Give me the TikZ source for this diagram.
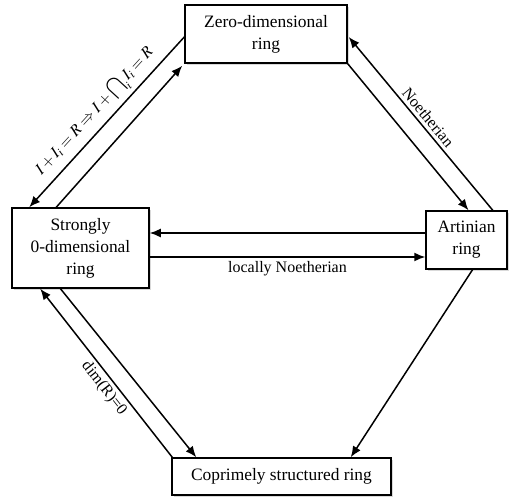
\documentclass[tikz,border=0pt]{standalone}
\usepackage{mathptmx}
\usepackage{fontspec}
\setmainfont{Liberation Serif}
\usetikzlibrary{shadows,arrows.meta}

\begin{document}
\begin{tikzpicture}[x=1pt,y=-1pt,
   ring/.style={draw,black,fill=white,line width=1.5pt,inner sep=0pt,align=center,
      font=\rmfamily\fontsize{17.4}{22}\selectfont,
      drop shadow={shadow xshift=2pt,shadow yshift=-2pt,opacity=0.3}},
   arr/.style={black,-{Latex[length=11pt,width=9pt]},line width=1.5pt},
   lbl/.style={font=\rmfamily\fontsize{16}{19}\selectfont}]
   \useasboundingbox (0,0) rectangle (509,498);
   \node[ring,minimum width=162pt,minimum height=58pt] (zero) at (266,34) {Zero-dimensional\\ring};
   \node[ring,minimum width=137pt,minimum height=80pt] (strong) at (80.5,248) {Strongly\\0-dimensional\\ring};
   \node[ring,minimum width=81pt,minimum height=58pt] (art) at (466.5,240) {Artinian\\ring};
   \node[ring,minimum width=219pt,minimum height=37pt] (cop) at (281.5,476.5) {Coprimely structured ring};
   \draw[arr] ([yshift=-3pt]zero.west)--([xshift=18pt]strong.north west) node[midway,above,sloped,lbl] () {$I + I_i = R \Rightarrow I + \displaystyle\bigcap\nolimits_i I_i = R$};
   \draw[arr] ([xshift=45pt]strong.north west)--([xshift=-2pt,yshift=-2pt]zero.south west);
   \draw[arr] (zero.south east)--([xshift=2pt]art.north);
   \draw[arr] ([xshift=-15pt]art.north east)--([xshift=1pt,yshift=-3pt]zero.east) node[midway,above,sloped,lbl] () {Noetherian};
   \draw[arr] ([yshift=7pt]art.west)--([yshift=15pt]strong.east);
   \draw[arr] ([yshift=-9pt]strong.east)--([yshift=-17pt]art.west) node[midway,below,lbl] () {locally Noetherian};
   \draw[arr] ([xshift=-20pt]strong.south)--([xshift=25pt]cop.north west);
   \draw[arr] ([xshift=1pt]cop.north west)--([xshift=29pt]strong.south west) node[pos=0.45,below,sloped,lbl] () {dim(R)=0};
   \draw[arr] ([xshift=6pt]art.south)--([xshift=-41pt]cop.north east);
\end{tikzpicture}
\end{document}
